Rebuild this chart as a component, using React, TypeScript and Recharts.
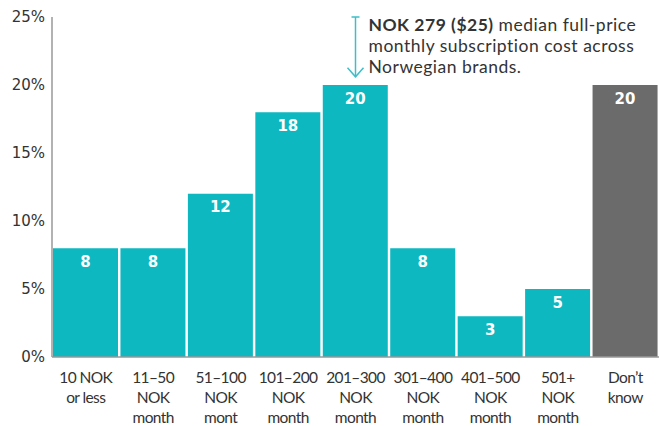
import React from 'react';
import { BarChart, Bar, XAxis, YAxis, Cell, LabelList, ReferenceLine } from 'recharts';

const categories = [
  '10 NOK|or less',
  '11–50|NOK|month',
  '51–100|NOK|mont',
  '101–200|NOK|month',
  '201–300|NOK|month',
  '301–400|NOK|month',
  '401–500|NOK|month',
  '501+|NOK|month',
  'Don’t|know',
];
const shares = [8, 8, 12, 18, 20, 8, 3, 5, 20];
const yTicks = [0, 5, 10, 15, 20, 25];

const annotationBold = 'NOK 279 ($25)';
const annotationLines = [' median full-price', 'monthly subscription cost across', 'Norwegian brands.'];

const TEAL = '#0db8c1';
const GREY = '#6b6b6b';
const TEXT = '#333333';

const data = categories.map((c, i) => ({ name: c, value: shares[i] }));

const labelFont = 'Lato, "Open Sans", sans-serif';
const numFont = '"DejaVu Sans", sans-serif';

const CategoryTick = (props: any) => {
  const { x, y, payload } = props;
  const lines = String(payload.value).split('|');
  return (
    <text
      x={x}
      y={y}
      textAnchor="middle"
      fill={TEXT}
      fontFamily={labelFont}
      fontSize={15.5}
      letterSpacing={-0.6}
    >
      {lines.map((l, i) => (
        <tspan key={i} x={x} dy={i === 0 ? 26 : 20}>
          {l}
        </tspan>
      ))}
    </text>
  );
};

const MedianArrow = (props: any) => {
  const { x1, y1, y2 } = props;
  const top = Math.min(y1, y2);
  const tip = Math.max(y1, y2);
  const tx = x1 + 13;
  return (
    <g>
      <line x1={x1} y1={top} x2={x1} y2={tip} stroke="#3dbfc9" strokeWidth={1.5} />
      <line x1={x1 - 4} y1={top} x2={x1 + 4} y2={top} stroke="#3dbfc9" strokeWidth={1.5} />
      <polyline
        points={`${x1 - 8},${tip - 9} ${x1},${tip} ${x1 + 8},${tip - 9}`}
        fill="none"
        stroke="#3dbfc9"
        strokeWidth={1.5}
      />
      <text x={tx} y={top + 14} fill={TEXT} fontFamily={labelFont} fontSize={17.5} letterSpacing={0.5}>
        <tspan fontWeight="bold">{annotationBold}</tspan>
        <tspan>{annotationLines[0]}</tspan>
        <tspan x={tx} dy={21}>{annotationLines[1]}</tspan>
        <tspan x={tx} dy={21}>{annotationLines[2]}</tspan>
      </text>
    </g>
  );
};

export default function App() {
  return (
    <div style={{ position: 'absolute', left: 0, top: 0, background: '#fff' }}>
      <BarChart
        width={659}
        height={426}
        data={data}
        margin={{ top: 17, right: 0, left: 0, bottom: 5 }}
        barCategoryGap={1}
      >
        <YAxis
          domain={[0, 25]}
          ticks={yTicks}
          tickFormatter={(v: number) => `${v}%`}
          width={52}
          tickLine={false}
          tickSize={0}
          tickMargin={7}
          axisLine={{ stroke: '#999999', strokeWidth: 1.5 }}
          tick={{ fill: TEXT, fontSize: 15, fontFamily: numFont }}
        />
        <XAxis
          dataKey="name"
          interval={0}
          height={64}
          tickLine={false}
          tickSize={0}
          tickMargin={0}
          axisLine={{ stroke: '#999999', strokeWidth: 1.5 }}
          tick={<CategoryTick />}
        />
        <Bar dataKey="value" isAnimationActive={false}>
          {data.map((d, i) => (
            <Cell key={i} fill={i === data.length - 1 ? GREY : TEAL} />
          ))}
          <LabelList
            dataKey="value"
            position="insideTop"
            offset={8}
            fill="#ffffff"
            fontSize={15}
            fontWeight="bold"
            fontFamily={numFont}
          />
        </Bar>
        <ReferenceLine
          segment={[
            { x: categories[4], y: 25 },
            { x: categories[4], y: 20.6 },
          ]}
          shape={<MedianArrow />}
        />
      </BarChart>
    </div>
  );
}
